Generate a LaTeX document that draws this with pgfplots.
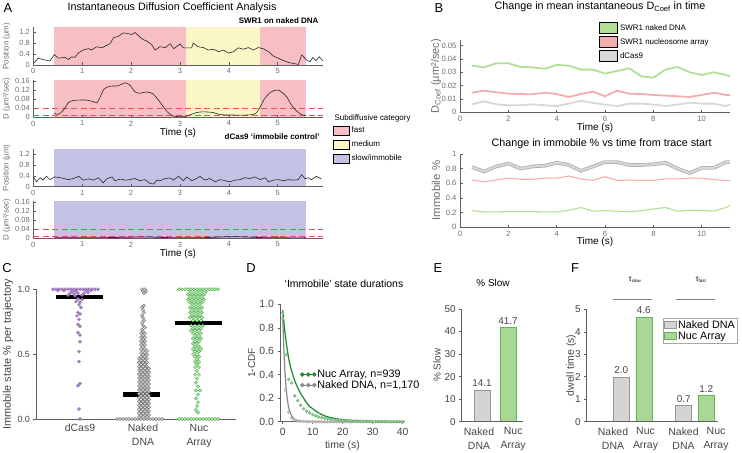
\documentclass[border=0pt]{standalone}
\usepackage{pgfplots}
\usepackage{pgfplotstable}
\pgfplotsset{compat=1.18}
\usepackage{fontspec}
\setmainfont{Liberation Sans}
\definecolor{pinkA}{RGB}{247,190,195}
\definecolor{yellowA}{RGB}{250,246,197}
\definecolor{lavA}{RGB}{195,193,228}
\definecolor{redD}{RGB}{236,80,80}
\definecolor{navy}{RGB}{35,35,100}
\definecolor{axc}{RGB}{95,95,95}
\definecolor{tkc}{RGB}{70,70,70}
\definecolor{tkA}{RGB}{110,110,110}
\definecolor{Bgreen}{RGB}{178,222,150}
\definecolor{Bpink}{RGB}{245,172,172}
\definecolor{Bgray}{RGB}{215,215,215}
\definecolor{Bgraydk}{RGB}{175,175,175}
\definecolor{Cpurple}{RGB}{172,130,204}
\definecolor{Cgray}{RGB}{105,105,105}
\definecolor{CgrayL}{RGB}{215,215,215}
\definecolor{Cgreen}{RGB}{50,165,50}
\definecolor{CgreenL}{RGB}{205,235,195}
\definecolor{Dgreen}{RGB}{25,135,45}
\definecolor{DgreenL}{RGB}{150,205,140}
\definecolor{Dgray}{RGB}{135,135,135}
\definecolor{DgrayL}{RGB}{195,195,195}
\definecolor{Egray}{RGB}{212,212,212}
\definecolor{EgrayE}{RGB}{150,150,150}
\definecolor{Egreen}{RGB}{170,215,150}
\definecolor{EgreenE}{RGB}{100,178,90}
\newcommand{\fs}[1]{\fontsize{#1}{#1}\selectfont}

\pgfplotstableread{
t g p k gb pb kb
0.5 0.0350 0.0147 0.0060 0.227 0.645 0.82
1.0 0.0337 0.0162 0.0082 0.210 0.620 0.76
1.5 0.0368 0.0150 0.0060 0.210 0.645 0.83
2.0 0.0368 0.0140 0.0053 0.214 0.670 0.87
2.5 0.0340 0.0137 0.0053 0.214 0.655 0.80
3.0 0.0337 0.0135 0.0060 0.214 0.655 0.83
3.5 0.0327 0.0147 0.0053 0.210 0.670 0.84
4.0 0.0355 0.0137 0.0047 0.210 0.670 0.88
4.5 0.0350 0.0115 0.0065 0.232 0.700 0.85
5.0 0.0320 0.0137 0.0087 0.270 0.660 0.77
5.5 0.0320 0.0155 0.0070 0.220 0.640 0.83
6.0 0.0290 0.0120 0.0058 0.227 0.690 0.89
6.5 0.0310 0.0162 0.0047 0.220 0.640 0.89
7.0 0.0330 0.0140 0.0065 0.210 0.645 0.85
7.5 0.0270 0.0137 0.0065 0.227 0.640 0.85
8.0 0.0260 0.0130 0.0058 0.250 0.640 0.86
8.5 0.0320 0.0125 0.0047 0.270 0.660 0.88
9.0 0.0340 0.0120 0.0058 0.220 0.660 0.80
9.5 0.0300 0.0115 0.0072 0.232 0.670 0.74
10.0 0.0280 0.0130 0.0065 0.230 0.670 0.81
10.5 0.0300 0.0147 0.0065 0.220 0.650 0.81
11.0 0.0280 0.0130 0.0047 0.270 0.640 0.89
11.17 0.0270 0.0130 0.0058 0.300 0.640 0.89
}\Btab

\pgfplotsset{
  base/.style={scale only axis, anchor=south west, axis lines*=left, enlargelimits=false,
    scaled ticks=false, /pgf/number format/assume math mode=true, axis on top,
    axis line style={color=axc, line width=0.5pt}, tick style={color=axc, line width=0.5pt},
    major tick length=2.5bp, clip=false},
  Aax/.style={base, tick align=inside, xmin=0, xmax=5.92, xtick={0,1,2,3,4,5}, width=289.4bp,
    tick label style={font=\fs{7.5}, text=tkA},
    ylabel style={font=\fs{7.9}, text=tkA, at={(axis description cs:-0.092,0.5)}, anchor=center},
    xlabel style={font=\fs{10}}},
  boxleg/.style={legend image code/.code={\draw[##1] (0bp,-4.5bp) rectangle (16bp,4.5bp);}},
  boxlegB/.style={legend image code/.code={\draw[##1] (0bp,-5.2bp) rectangle (18bp,5.2bp);}},
  boxlegF/.style={legend image code/.code={\draw[##1] (0bp,-3.5bp) rectangle (12bp,3.5bp);}},
  lineleg/.style={legend image code/.code={\draw[##1] plot coordinates {(0bp,0bp)(6bp,0bp)(12bp,0bp)};}},
}

\begin{document}
\begin{tikzpicture}
\useasboundingbox (0,0) rectangle (742bp,453bp);

% ================= Panel A =================
\node[font=\fs{13}] at (8bp,445bp) {A};
\node[font=\fs{10.8}] at (172bp,445bp) {Instantaneous Diffusion Coefficient Analysis};
\node[font=\bfseries\fs{8}, anchor=east] at (322bp,432.3bp) {SWR1 on naked DNA};
\node[font=\bfseries\fs{8}, anchor=east] at (323bp,316.3bp) {dCas9 ‘immobile control’};
\node[font=\fs{8}, anchor=west] at (331bp,334.7bp) {Subdiffusive category};

\begin{axis}[Aax, at={(33.3bp,388bp)}, height=37.6bp, ymin=0, ymax=1.38,
  ytick={0,0.4,0.8,1.2}, ylabel={Position (µm)}]
\addplot[draw=none, fill=pinkA] coordinates {(0.43,1.38) (3.12,1.38)} \closedcycle;
\addplot[draw=none, fill=yellowA] coordinates {(3.12,1.38) (4.63,1.38)} \closedcycle;
\addplot[draw=none, fill=pinkA] coordinates {(4.63,1.38) (5.58,1.38)} \closedcycle;
\addplot[black!85, line width=0.6pt] coordinates {
(0,0.05)(0.1,0.25)(0.2,0.2)(0.34,0.15)(0.43,0.38)(0.51,0.25)(0.65,0.28)(0.72,0.2)(0.78,0.3)
(0.85,0.28)(0.92,0.44)(1.02,0.55)(1.13,0.6)(1.19,0.55)(1.3,0.67)(1.4,0.63)(1.5,0.72)(1.57,0.78)
(1.64,1.0)(1.74,1.05)(1.84,1.18)(1.94,1.15)(2.01,1.12)(2.08,1.19)(2.18,1.03)(2.25,0.93)(2.32,0.88)
(2.42,0.75)(2.49,0.55)(2.59,0.67)(2.7,0.64)(2.8,0.78)(2.87,0.6)(2.93,0.67)(3.0,0.77)(3.07,0.63)
(3.24,0.63)(3.27,0.81)(3.37,0.67)(3.48,0.64)(3.58,0.55)(3.68,0.58)(3.79,0.49)(3.89,0.55)(3.99,0.44)
(4.09,0.48)(4.19,0.63)(4.3,0.58)(4.4,0.64)(4.5,0.55)(4.6,0.64)(4.7,0.6)(4.81,0.49)(4.91,0.33)
(5.01,0.25)(5.11,0.17)(5.22,0.09)(5.32,0.06)(5.42,0.02)(5.49,0.37)(5.59,0.18)(5.66,0.12)(5.72,0.28)
(5.78,0.16)(5.85,0.3)(5.92,0.15)};
\end{axis}

\begin{axis}[Aax, at={(33.3bp,335.7bp)}, height=37.4bp, ymin=0, ymax=0.165,
  ytick={0,0.04,0.08,0.12,0.16},
  yticklabel style={/pgf/number format/fixed, /pgf/number format/precision=2},
  ylabel={D (µm²/sec)}, xlabel={Time (s)},
  xlabel style={at={(axis description cs:0.5,-0.42)}, anchor=center},
  legend style={at={(axis description cs:1.036,-0.22)}, anchor=north west, draw=none, fill=none,
    font=\fs{8}, inner sep=0pt, row sep=3.6bp, nodes={inner sep=1.5bp}},
  legend cell align=left]
\addlegendimage{boxleg, fill=pinkA, draw=black, line width=0.9pt}
\addlegendentry{fast}
\addlegendimage{boxleg, fill=yellowA, draw=black, line width=0.9pt}
\addlegendentry{medium}
\addlegendimage{boxleg, fill=lavA, draw=black, line width=0.9pt}
\addlegendentry{slow/immobile}
\addplot[draw=none, fill=pinkA] coordinates {(0.43,0.165) (3.12,0.165)} \closedcycle;
\addplot[draw=none, fill=yellowA] coordinates {(3.12,0.165) (4.63,0.165)} \closedcycle;
\addplot[draw=none, fill=pinkA] coordinates {(4.63,0.165) (5.58,0.165)} \closedcycle;
\addplot[redD, line width=0.6pt, dash pattern=on 6bp off 3.5bp] coordinates {(0,0.04)(5.92,0.04)};
\addplot[redD, line width=0.6pt, dash pattern=on 6bp off 3.5bp] coordinates {(0,0.008)(5.92,0.008)};
\addplot[black!85, line width=0.6pt, smooth] coordinates {
(0.43,0.018)(0.51,0.013)(0.61,0.03)(0.72,0.065)(0.8,0.074)(0.95,0.076)(1.09,0.076)(1.23,0.069)
(1.3,0.064)(1.37,0.091)(1.45,0.125)(1.57,0.137)(1.74,0.139)(1.87,0.152)(1.97,0.143)(2.08,0.113)
(2.18,0.106)(2.32,0.112)(2.45,0.103)(2.56,0.076)(2.66,0.047)(2.75,0.022)(2.85,0.007)(2.95,0.003)
(3.1,0.003)(3.2,0.01)(3.34,0.021)(3.48,0.024)(3.68,0.021)(3.82,0.012)(4.09,0.01)(4.37,0.01)
(4.54,0.016)(4.64,0.045)(4.72,0.078)(4.82,0.105)(4.94,0.119)(5.04,0.117)(5.18,0.091)(5.28,0.054)
(5.39,0.027)(5.5,0.011)(5.58,0.007)};
\end{axis}

\begin{axis}[Aax, at={(33.3bp,266.3bp)}, height=37.6bp, ymin=0, ymax=1.38,
  ytick={0,0.4,0.8,1.2}, ylabel={Position (µm)}]
\addplot[draw=none, fill=lavA] coordinates {(0.43,1.38) (5.58,1.38)} \closedcycle;
\addplot[black!85, line width=0.6pt] coordinates {
(0,0.36)(0.07,0.18)(0.14,0.33)(0.2,0.24)(0.27,0.38)(0.34,0.26)(0.44,0.36)(0.58,0.32)(0.72,0.26)
(0.82,0.3)(0.93,0.38)(1.02,0.24)(1.13,0.29)(1.23,0.24)(1.33,0.33)(1.43,0.14)(1.5,0.29)(1.61,0.36)
(1.67,0.22)(1.78,0.28)(1.88,0.24)(1.98,0.26)(2.08,0.3)(2.18,0.22)(2.28,0.26)(2.39,0.12)(2.46,0.1)
(2.53,0.24)(2.59,0.22)(2.7,0.3)(2.8,0.32)(2.87,0.24)(2.97,0.38)(3.07,0.22)(3.14,0.36)(3.24,0.22)
(3.34,0.3)(3.41,0.38)(3.51,0.24)(3.61,0.3)(3.72,0.18)(3.82,0.26)(3.92,0.22)(4.02,0.18)(4.13,0.24)
(4.23,0.26)(4.33,0.33)(4.43,0.3)(4.53,0.36)(4.64,0.26)(4.74,0.33)(4.81,0.18)(4.91,0.24)(5.01,0.26)
(5.11,0.22)(5.22,0.26)(5.32,0.24)(5.42,0.26)(5.49,0.44)(5.56,0.29)(5.62,0.33)(5.69,0.26)(5.79,0.38)
(5.89,0.29)};
\end{axis}

\begin{axis}[Aax, at={(33.3bp,214.7bp)}, height=37.4bp, ymin=0, ymax=0.165,
  ytick={0,0.04,0.08,0.12,0.16},
  yticklabel style={/pgf/number format/fixed, /pgf/number format/precision=2},
  ylabel={D (µm²/sec)}, xlabel={Time (s)},
  xlabel style={at={(axis description cs:0.5,-0.42)}, anchor=center}]
\addplot[draw=none, fill=lavA] coordinates {(0.43,0.165) (5.58,0.165)} \closedcycle;
\addplot[redD, line width=0.6pt, dash pattern=on 6bp off 3.5bp] coordinates {(0,0.04)(5.92,0.04)};
\addplot[redD, line width=0.6pt, dash pattern=on 6bp off 3.5bp] coordinates {(0,0.008)(5.92,0.008)};
\addplot[navy, line width=0.7pt, smooth] coordinates {
(0.43,0.003)(1,0.002)(1.5,0.003)(2,0.005)(2.3,0.006)(2.6,0.004)(3,0.002)(3.5,0.003)(4,0.007)
(4.3,0.006)(4.7,0.003)(5.2,0.002)(5.58,0.002)};
\end{axis}

% ================= Panel B =================
\node[font=\fs{13}] at (439bp,445bp) {B};
\node[font=\fs{10.8}] at (600bp,446bp) {Change in mean instantaneous D\textsubscript{Coef} in time};
\node[font=\fs{10.8}] at (601.7bp,309bp) {Change in immobile \% vs time from trace start};

\begin{axis}[base, tick align=inside, at={(460bp,340.7bp)}, width=270bp, height=72bp,
  xmin=0, xmax=11.17, ymin=0, ymax=0.054, xtick={0,2,4,6,8,10}, ytick={0,0.01,0.02,0.03,0.04,0.05},
  yticklabel style={/pgf/number format/fixed, /pgf/number format/precision=2},
  tick label style={font=\fs{7.7}, text=tkA},
  ylabel={D\textsubscript{Coef} (µm²/sec)},
  ylabel style={font=\fs{11}, text=tkA, at={(axis description cs:-0.089,0.5)}, anchor=center},
  xlabel={Time (s)}, xlabel style={font=\fs{10}, at={(axis description cs:0.5,-0.215)}, anchor=center},
  legend style={at={(axis description cs:0.515,1.25)}, anchor=north west, draw=none, fill=none,
    font=\fs{8}, inner sep=0pt, row sep=2.6bp, nodes={inner sep=1.8bp}},
  legend cell align=left]
\addlegendimage{boxlegB, fill=Bgreen, draw=black, line width=1pt}
\addlegendentry{SWR1 naked DNA}
\addlegendimage{boxlegB, fill=Bpink, draw=black, line width=1pt}
\addlegendentry{SWR1 nucleosome array}
\addlegendimage{boxlegB, fill=Bgray, draw=black, line width=1pt}
\addlegendentry{dCas9}
\addplot[Bgreen, line width=1.8pt] table[x=t, y=g] {\Btab};
\addplot[Bpink, line width=1.8pt] table[x=t, y=p] {\Btab};
\addplot[Bgray, line width=1.8pt] table[x=t, y=k] {\Btab};
\end{axis}

\begin{axis}[base, tick align=inside, at={(460bp,225.7bp)}, width=270bp, height=73.3bp,
  xmin=0, xmax=11.17, ymin=0, ymax=1, xtick={0,2,4,6,8,10}, ytick={0,0.2,0.4,0.6,0.8,1},
  tick label style={font=\fs{7.7}, text=tkA},
  ylabel={Immobile \%},
  ylabel style={font=\fs{11.5}, text=tkA, at={(axis description cs:-0.089,0.5)}, anchor=center},
  xlabel={Time (s)}, xlabel style={font=\fs{10}, at={(axis description cs:0.5,-0.2)}, anchor=center}]
\addplot[Bgraydk, line width=3.6pt] table[x=t, y=kb] {\Btab};
\addplot[Bgray, line width=2pt] table[x=t, y=kb] {\Btab};
\addplot[Bpink, line width=1.1pt] table[x=t, y=pb] {\Btab};
\addplot[Bgreen, line width=1.1pt] table[x=t, y=gb] {\Btab};
\end{axis}

% ================= Panel C =================
\node[font=\fs{13}] at (7bp,185bp) {C};
\begin{axis}[base, tick align=outside, axis on top=false, at={(36bp,34bp)}, width=200bp, height=129.7bp,
  xmin=36, xmax=236, ymin=0, ymax=1, ytick={0,0.5,1},
  yticklabel style={/pgf/number format/fixed, /pgf/number format/fixed zerofill, /pgf/number format/precision=1},
  xtick={80,143,199}, xticklabels={dCas9,{Naked\\DNA},{Nuc\\Array}},
  xticklabel style={align=center, font=\fontsize{10.5}{14}\selectfont, text=tkc, yshift=1bp},
  xtick style={draw=none},
  yticklabel style={font=\fs{9}, text=tkc},
  ylabel={Immobile state \% per trajectory},
  ylabel style={font=\fs{11}, text=tkc, at={(axis description cs:-0.14,0.5)}, anchor=center}]
\addplot[only marks, mark=*, mark size=1.6bp, mark options={fill=Cpurple, draw=Cpurple!85!black, line width=0.3pt}] coordinates {
(53,1)(56,1)(59,1)(62,1)(65,1)(68,1)(71,1)(74,1)(77,1)(80,1)(83,1)(86,1)(89,1)(92,1)(95,1)(98,1)
(58,0.99)(64,0.99)(72,0.985)(76,0.985)(86,0.99)(91,0.99)
(70,0.97)(74,0.965)(78,0.97)(84,0.97)(88,0.975)(68,0.955)(75,0.95)(82,0.955)
(78,0.925)(82,0.92)(76,0.905)(80,0.9)(79,0.88)(81,0.86)(78,0.82)(80,0.81)(77,0.795)(79,0.768)
(78,0.73)(80,0.715)(78,0.665)(80,0.647)(80,0.596)(79,0.519)(79,0.442)(80,0.274)(78,0.256)(79,0.077)(80,0.0)};
\addplot[only marks, mark=*, mark size=1.6bp, mark options={fill=CgrayL, draw=Cgray, line width=0.35pt}] coordinates {
(117,0)(120,0)(123,0)(126,0)(129,0)(132,0)(135,0)(138,0)(141,0)(144,0)(147,0)(150,0)(153,0)(156,0)(159,0)(162,0)
(142,1)(145,1)(143,0.985)(146,0.985)(144,0.97)
(139,0.015)(143,0.015)(147,0.015)(141,0.03)(145,0.03)(149,0.03)(139,0.045)(143,0.045)(147,0.045)
(141,0.06)(145,0.06)(149,0.06)(139,0.075)(143,0.075)(147,0.075)(141,0.09)(145,0.09)(149,0.09)
(139,0.105)(143,0.105)(147,0.105)(141,0.12)(145,0.12)(149,0.12)(139,0.135)(143,0.135)(147,0.135)
(141,0.15)(145,0.15)(149,0.15)(139,0.165)(143,0.165)(147,0.165)(141,0.18)(145,0.18)(149,0.18)
(139,0.195)(143,0.195)(147,0.195)(141,0.21)(145,0.21)(149,0.21)(139,0.225)(143,0.225)(147,0.225)
(141,0.24)(145,0.24)(149,0.24)(139,0.255)(143,0.255)(147,0.255)(141,0.27)(145,0.27)(149,0.27)
(139,0.285)(143,0.285)(147,0.285)(141,0.3)(145,0.3)(149,0.3)(139,0.315)(143,0.315)(147,0.315)
(141,0.33)(145,0.33)(149,0.33)(139,0.345)(143,0.345)(147,0.345)(141,0.36)(145,0.36)(149,0.36)
(139,0.375)(143,0.375)(147,0.375)(141,0.39)(145,0.39)(149,0.39)(139,0.405)(143,0.405)(147,0.405)
(141,0.42)(145,0.42)(139,0.435)(143,0.435)(147,0.435)(141,0.45)(145,0.45)(139,0.465)(143,0.465)(147,0.465)
(141,0.48)(145,0.48)(143,0.495)(147,0.495)(141,0.51)(145,0.51)(143,0.525)(147,0.525)(141,0.54)(145,0.54)
(143,0.555)(141,0.57)(145,0.57)(143,0.585)(141,0.6)(145,0.6)(143,0.615)(141,0.63)(145,0.63)(143,0.645)
(141,0.66)(145,0.66)(143,0.675)(142,0.69)(145,0.705)(143,0.72)(142,0.74)(144,0.76)(143,0.78)(142,0.8)
(144,0.82)(143,0.84)(142,0.86)(144,0.875)};
\addplot[only marks, mark=*, mark size=1.6bp, mark options={fill=CgreenL, draw=Cgreen, line width=0.35pt}] coordinates {
(179,1)(182,1)(185,1)(188,1)(191,1)(194,1)(197,1)(200,1)(203,1)(206,1)(209,1)(212,1)(215,1)(218,1)
(179,0)(182,0)(185,0)(188,0)(191,0)(194,0)(197,0)(200,0)(203,0)(206,0)(209,0)(212,0)(215,0)(218,0)
(190,0.98)(194,0.98)(198,0.98)(202,0.98)(206,0.98)(188,0.96)(192,0.96)(196,0.96)(200,0.96)(204,0.96)
(190,0.94)(194,0.94)(198,0.94)(202,0.94)(188,0.92)(192,0.92)(196,0.92)(200,0.92)(204,0.92)
(190,0.9)(194,0.9)(198,0.9)(202,0.9)(192,0.88)(196,0.88)(200,0.88)(190,0.86)(194,0.86)(198,0.86)(202,0.86)
(192,0.84)(196,0.84)(200,0.84)(190,0.82)(194,0.82)(198,0.82)(202,0.82)(192,0.8)(196,0.8)(200,0.8)
(190,0.78)(194,0.78)(198,0.78)(202,0.78)(193,0.76)(197,0.76)(201,0.76)(191,0.72)(195,0.72)(199,0.72)(203,0.72)
(193,0.7)(197,0.7)(201,0.7)(191,0.68)(195,0.68)(199,0.68)(193,0.66)(197,0.66)(201,0.66)(195,0.64)(199,0.64)
(193,0.62)(197,0.62)(201,0.62)(195,0.6)(199,0.6)(193,0.58)(197,0.58)(195,0.56)(199,0.56)(193,0.54)(197,0.54)(201,0.54)
(195,0.52)(199,0.52)(193,0.5)(197,0.5)(195,0.48)(199,0.48)(197,0.46)(195,0.44)(199,0.44)(197,0.42)(195,0.4)(199,0.4)
(197,0.37)(195,0.34)(199,0.34)(197,0.31)(196,0.28)(198,0.25)(196,0.22)(200,0.22)(198,0.19)(196,0.16)(198,0.13)
(197,0.1)(196,0.07)(198,0.05)};
\addplot[black, line width=4.5bp] coordinates {(55.7,0.94)(103,0.94)};
\addplot[black, line width=4.5bp] coordinates {(123,0.19)(160,0.19)};
\addplot[black, line width=4.5bp] coordinates {(175,0.74)(222,0.74)};
\end{axis}

% ================= Panel D =================
\node[font=\fs{13}] at (251bp,185bp) {D};
\node[font=\fs{10.5}] at (344bp,169.7bp) {‘Immobile’ state durations};
\begin{axis}[base, tick align=outside, axis on top=false, at={(280bp,31.3bp)}, width=125bp, height=117.4bp,
  xmin=-0.9, xmax=40.8, ymin=0, ymax=1, xtick={0,10,20,30,40}, ytick={0,0.2,0.4,0.6,0.8,1},
  yticklabel style={/pgf/number format/fixed, /pgf/number format/fixed zerofill, /pgf/number format/precision=1},
  tick label style={font=\fs{10.5}, text=tkc},
  ylabel={1-CDF}, ylabel style={font=\fs{10}, text=tkc, at={(axis description cs:-0.226,0.5)}, anchor=center},
  xlabel={time (s)}, xlabel style={font=\fs{10.5}, text=tkc, at={(axis description cs:0.5,-0.205)}, anchor=center},
  legend style={at={(axis description cs:0.165,0.455)}, anchor=north west, draw=none, fill=none,
    font=\fs{10.8}, inner sep=0pt, row sep=-1.5bp, nodes={inner sep=1.5bp}},
  legend cell align=left]
\addlegendimage{lineleg, Dgreen, line width=1.2pt, mark=*, mark size=1.5bp, mark options={fill=DgreenL, draw=Dgreen}}
\addlegendentry{Nuc Array, n=939}
\addlegendimage{lineleg, Dgray, line width=1.2pt, mark=*, mark size=1.5bp, mark options={fill=DgrayL, draw=Dgray}}
\addlegendentry{Naked DNA, n=1,170}
\addplot[only marks, mark=*, mark size=1.5bp, mark options={fill=DgrayL, draw=Dgray!80, line width=0.3pt}] coordinates {
(0,0.88)(1,0.27)(2,0.08)(3,0.03)(4,0.012)(5,0.006)(6,0.003)(7,0.002)(8,0.001)(9,0.001)(10,0)(11,0)(12,0)
(13,0)(14,0)(15,0)(16,0)(17,0)(18,0)(19,0)(20,0)(21,0)(22,0)(23,0)(24,0)(25,0)(26,0)(27,0)(28,0)(29,0)
(30,0)(31,0)(32,0)(33,0)(34,0)(35,0)(36,0)(37,0)(38,0)(39,0)(40,0)};
\addplot[only marks, mark=*, mark size=1.5bp, mark options={fill=DgreenL, draw=Dgreen!70, line width=0.3pt}] coordinates {
(0,0.93)(1.3,0.57)(2,0.36)(3,0.33)(4,0.22)(5,0.18)(6,0.14)(7,0.11)(8,0.09)(9,0.075)(10,0.06)(11,0.05)
(12,0.04)(13,0.035)(14,0.03)(15,0.025)(16,0.02)(17,0.018)(18,0.015)(19,0.013)(20,0.012)(21,0.01)
(22,0.009)(23,0.008)(24,0.007)(25,0.006)(26,0.005)(27,0.005)(28,0.004)(29,0.004)(30,0.003)(31,0.003)
(32,0.002)(33,0.002)(34,0.002)(35,0.001)(36,0.001)(37,0.001)(38,0.001)(39,0.001)(40,0.001)};
\addplot[Dgray, line width=1.2pt, smooth] coordinates {
(0,0.9)(0.5,0.55)(1,0.33)(1.5,0.2)(2,0.12)(2.5,0.08)(3,0.05)(4,0.02)(5,0.01)(6,0.005)(8,0.002)(10,0)(40,0)};
\addplot[Dgreen, line width=1.2pt, smooth] coordinates {
(0,0.95)(0.5,0.82)(1,0.71)(1.5,0.62)(2,0.54)(2.5,0.48)(3,0.43)(4,0.35)(5,0.29)(6,0.24)(7,0.2)(8,0.16)
(9,0.13)(10,0.11)(12,0.075)(14,0.05)(16,0.035)(20,0.017)(25,0.007)(30,0.003)(35,0.001)(40,0)};
\end{axis}

% ================= Panel E =================
\node[font=\fs{13}] at (438bp,185bp) {E};
\node[font=\fs{10}] at (493bp,169.7bp) {\% Slow};
\begin{axis}[base, tick align=outside, at={(461.7bp,31.3bp)}, width=61.3bp, height=112.7bp,
  xmin=0, xmax=61.3, ymin=0, ymax=50, ytick={0,10,20,30,40,50},
  xtick={17.3,51.5}, xticklabels={{Naked\\DNA},{Nuc\\Array}},
  xticklabel style={align=center, font=\fontsize{10.5}{14}\selectfont, text=tkc},
  xtick style={draw=none}, yticklabel style={font=\fs{10}, text=tkc},
  ylabel={\% Slow}, ylabel style={font=\fs{10}, text=tkc, at={(axis description cs:-0.40,0.5)}, anchor=center},
  nodes near coords={\pgfmathprintnumber[fixed,fixed zerofill,precision=1]{\pgfplotspointmeta}},
  every node near coord/.append style={font=\fs{10}, text=tkc}]
\addplot[ybar, bar shift=0pt, bar width=16bp, fill=Egray, draw=EgrayE, line width=0.6pt] coordinates {(20.3,14.1)};
\addplot[ybar, bar shift=0pt, bar width=16bp, fill=Egreen, draw=EgreenE, line width=0.6pt] coordinates {(46.3,41.7)};
\end{axis}

% ================= Panel F =================
\node[font=\fs{13}] at (575bp,185bp) {F};
\node[font=\fs{8}] at (635bp,173bp) {τ\textsubscript{\fs{4.5}slow}};
\node[font=\fs{8}] at (701bp,173bp) {τ\textsubscript{\fs{4.5}fast}};
\draw[gray, line width=0.6pt] (613bp,153.7bp) -- (651.7bp,153.7bp);
\draw[gray, line width=0.6pt] (676bp,153.7bp) -- (715bp,153.7bp);
\begin{axis}[base, tick align=outside, at={(586.7bp,31.3bp)}, width=131.3bp, height=112.4bp,
  xmin=0, xmax=131.3, ymin=0, ymax=5, ytick={0,1,2,3,4,5},
  xtick={26.3,58.8,96.8,129.3}, xticklabels={{Naked\\DNA},{Nuc\\Array},{Naked\\DNA},{Nuc\\Array}},
  xticklabel style={align=center, font=\fontsize{10.5}{14}\selectfont, text=tkc},
  xtick style={draw=none}, yticklabel style={font=\fs{10}, text=tkc},
  ylabel={dwell time (s)}, ylabel style={font=\fs{10.5}, text=tkc, at={(axis description cs:-0.118,0.5)}, anchor=center},
  nodes near coords={\pgfmathprintnumber[fixed,fixed zerofill,precision=1]{\pgfplotspointmeta}},
  every node near coord/.append style={font=\fs{10}, text=tkc},
  legend style={at={(axis description cs:0.58,0.925)}, anchor=north west, draw=gray!70, fill=white,
    font=\fs{10.8}, inner sep=1pt, row sep=-1bp, nodes={inner sep=1.5bp}},
  legend cell align=left]
\addlegendimage{boxlegF, fill=Egray, draw=EgrayE, line width=0.5pt}
\addlegendentry{Naked DNA}
\addlegendimage{boxlegF, fill=Egreen, draw=EgreenE, line width=0.5pt}
\addlegendentry{Nuc Array}
\addplot[ybar, bar shift=0pt, bar width=16bp, fill=Egray, draw=EgrayE, line width=0.6pt] coordinates {(34.6,1.97)(97,0.71)};
\addplot[ybar, bar shift=0pt, bar width=16bp, fill=Egreen, draw=EgreenE, line width=0.6pt] coordinates {(57.1,4.64)(119.5,1.16)};
\end{axis}
\end{tikzpicture}
\end{document}
